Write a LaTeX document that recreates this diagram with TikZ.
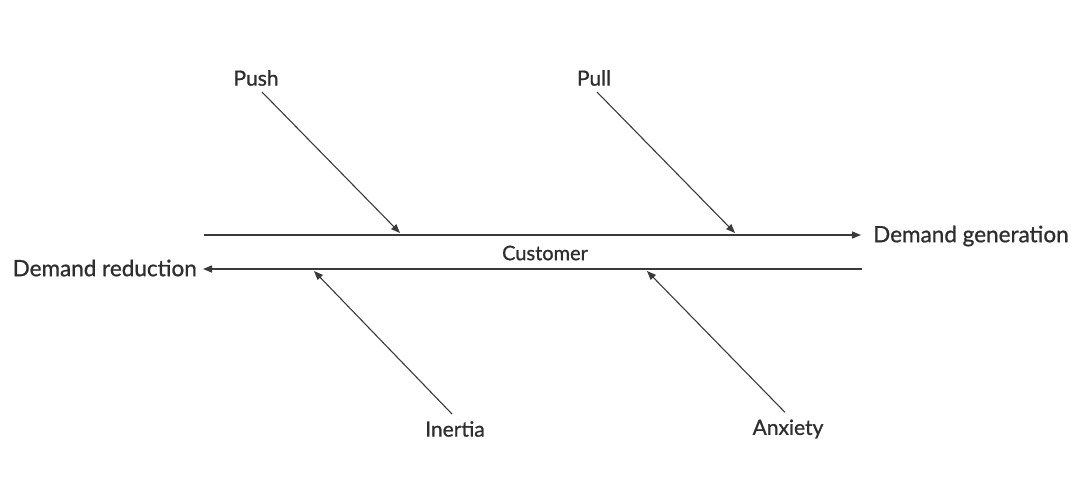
\documentclass[tikz,border=0pt]{standalone}
\usepackage{fontspec}
\setmainfont{Lato}[FakeBold=0.9]
\usetikzlibrary{arrows.meta}
\definecolor{ln}{HTML}{3a3a3a}
\definecolor{tx}{HTML}{2e2e2e}
\tikzset{
  lbl/.style={text=tx, font=\fontsize{21}{24}\selectfont, inner sep=4pt},
  biglbl/.style={text=tx, font=\fontsize{22.5}{26}\selectfont, inner sep=2pt},
  smalllbl/.style={text=tx, font=\fontsize{20}{23}\selectfont, inner sep=1pt},
  arr/.style={draw=ln, line width=1.1pt, -{Triangle[length=9pt,width=7pt]}},
  mainline/.style={draw=ln, line width=1.4pt, -{Triangle[length=9pt,width=7pt]}}
}
\begin{document}
\begin{tikzpicture}[x=1pt,y=-1pt]
\useasboundingbox (0,0) rectangle (1073,482);
% main labels
\node[biglbl, anchor=west] (gen) at (871,236) {Demand generation};
\node[biglbl, anchor=east] (red) at (199,268) {Demand reduction};
\node[smalllbl] (cust) at (545,253) {Customer};
% force labels
\node[lbl] (push) at (256,78) {Push};
\node[lbl] (pull) at (594,78) {Pull};
\node[lbl] (inertia) at (455,429) {Inertia};
\node[lbl] (anxiety) at (788,429) {Anxiety};
% coordinates
\coordinate (ustart) at (204,235);
\coordinate (uend) at (861,235);
\coordinate (lstart) at (862,269);
\coordinate (lend) at (203,269);
\coordinate (pushtip) at (400,233);
\coordinate (pulltip) at (735,233);
\coordinate (inertiatip) at (314,271);
\coordinate (anxietytip) at (647,271);
% main lines
\draw[mainline] (ustart) -- (uend);
\draw[mainline] (lstart) -- (lend);
% forces
\draw[arr] ([xshift=6pt,yshift=-2pt]push.south) -- (pushtip);
\draw[arr] ([xshift=3pt,yshift=-2pt]pull.south) -- (pulltip);
\draw[arr] ([xshift=-3pt,yshift=3pt]inertia.north) -- (inertiatip);
\draw[arr] ([xshift=-3pt,yshift=3pt]anxiety.north) -- (anxietytip);
\end{tikzpicture}
\end{document}
